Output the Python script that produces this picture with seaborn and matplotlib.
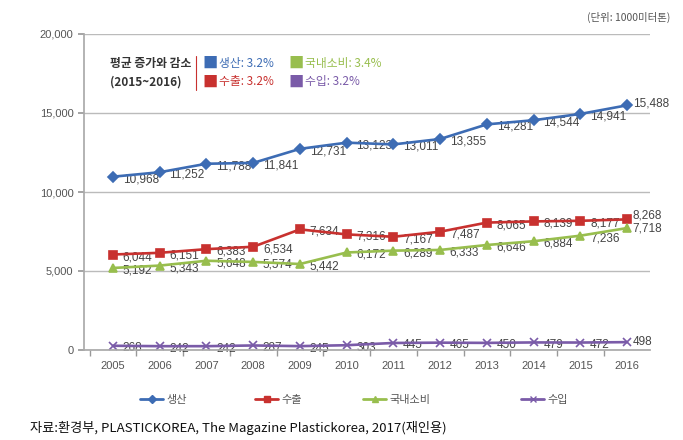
import pandas as pd
import numpy as np
import matplotlib.pyplot as plt
import seaborn as sns
from matplotlib.ticker import FuncFormatter, FixedLocator

years = [str(y) for y in range(2005, 2017)]
production = [10968, 11252, 11788, 11841, 12731, 13123, 13011, 13355, 14281, 14544, 14941, 15488]
export = [6044, 6151, 6383, 6534, 7634, 7316, 7167, 7487, 8065, 8139, 8177, 8268]
domestic = [5192, 5343, 5648, 5574, 5442, 6172, 6289, 6333, 6646, 6884, 7236, 7718]
imports = [268, 242, 242, 287, 245, 303, 445, 465, 450, 479, 472, 498]

series_names = ['생산', '수출', '국내소비', '수입']
series_values = [production, export, domestic, imports]
growth_labels = ['생산: 3.2%', '수출: 3.2%', '국내소비: 3.4%', '수입: 3.2%']
colors = ['#3D6CB4', '#C8312F', '#98BE4E', '#7A5BA8']
markers = ['D', 's', '^', 'x']
msizes = [5, 5.5, 6, 6]

sns.set_theme(style='white')
plt.rcParams['font.family'] = ['Noto Sans CJK KR', 'DejaVu Sans']

W, H = 683, 440
fig = plt.figure(figsize=(W/100, H/100), dpi=100)
ax = fig.add_axes([84/W, 1-350/H, 566/W, 316/H])

for name, vals, c, m, ms in zip(series_names, series_values, colors, markers, msizes):
    d = pd.DataFrame({'x': range(len(vals)), 'y': vals})
    sns.lineplot(data=d, x='x', y='y', color=c, marker=m, markersize=ms,
                 linewidth=1.9, markeredgewidth=1.2, markeredgecolor=c, ax=ax)

# data labels (last point sits to the right, others right-below)
last_dy = {'생산': 1, '수출': 2.8, '국내소비': -0.6, '수입': 0}
for name, vals in zip(series_names, series_values):
    for i, v in enumerate(vals):
        dy = -1.8
        dx = 7
        if i == len(vals) - 1:
            dy = last_dy[name]
            dx = 4
        ax.annotate(f'{v:,}', (i, v), xytext=(dx, dy), textcoords='offset points',
                    ha='left', va='center', fontsize=8.5, color='#444444',
                    family=['Liberation Sans', 'DejaVu Sans'], zorder=1)

ax.set_xlim(-0.62, 11.49)
ax.set_ylim(0, 20000)
ax.set_yticks([0, 5000, 10000, 15000, 20000])
ax.yaxis.set_major_formatter(FuncFormatter(lambda v, p: f'{int(v):,}'))
ax.set_xticks(range(len(years)))
ax.set_xticklabels(years)
ax.xaxis.set_minor_locator(FixedLocator(np.arange(-0.5, 12, 1)))
ax.tick_params(axis='x', which='major', length=0, labelsize=8, colors='#555555', pad=8)
ax.tick_params(axis='x', which='minor', length=4, color='#999999', bottom=True)
ax.tick_params(axis='y', length=4, color='#999999', left=True, labelsize=8, colors='#555555')
for lab in ax.get_xticklabels() + ax.get_yticklabels():
    lab.set_family(['Liberation Sans', 'DejaVu Sans'])
ax.set_xlabel('')
ax.set_ylabel('')
ax.grid(axis='y', color='#BBBBBB', linewidth=1)
for s in ['top', 'right']:
    ax.spines[s].set_visible(False)
ax.spines['left'].set_color('#AAAAAA')
ax.spines['bottom'].set_color('#AAAAAA')

# unit note
fig.text(670/W, 1-17/H, '(단위: 1000미터톤)', ha='right', va='center', fontsize=7.5, color='#555555')

# average growth box
fig.text(110/W, 1-63/H, '평균 증가와 감소', ha='left', va='center', fontsize=8.5, color='#333333', weight='bold')
fig.text(110/W, 1-82/H, '(2015~2016)', ha='left', va='center', fontsize=8.5, color='#333333', weight='bold')
fig.add_artist(plt.Line2D([196/W, 196/W], [1-56/H, 1-90/H], color='#C8312F', linewidth=0.8))
box_pos = [(210, 63), (210, 82), (296, 63), (296, 82)]
for (bx, by), txt, c in zip(box_pos, growth_labels, colors):
    fig.text(bx/W, 1-by/H, '■', ha='center', va='center', fontsize=11, color=c)
    fig.text((bx+9)/W, 1-by/H, txt, ha='left', va='center', fontsize=8.5, color=c)

# bottom legend, one entry per position
leg_x = [140, 255, 363, 521]
for lx, name, c, m in zip(leg_x, series_names, colors, markers):
    h = plt.Line2D([], [], color=c, marker=m, markersize=4, linewidth=2)
    fig.legend([h], [name], loc='center left', bbox_to_anchor=(lx/W, 1-400/H),
               frameon=False, fontsize=8, handlelength=2.1, handletextpad=0.3,
               borderpad=0, borderaxespad=0, labelcolor='#555555')

fig.text(30/W, 1-428/H, '자료:환경부, PLASTICKOREA, The Magazine Plastickorea, 2017(재인용)',
         ha='left', va='center', fontsize=9.5, color='#111111')

fig.savefig('out.png', dpi=100)
